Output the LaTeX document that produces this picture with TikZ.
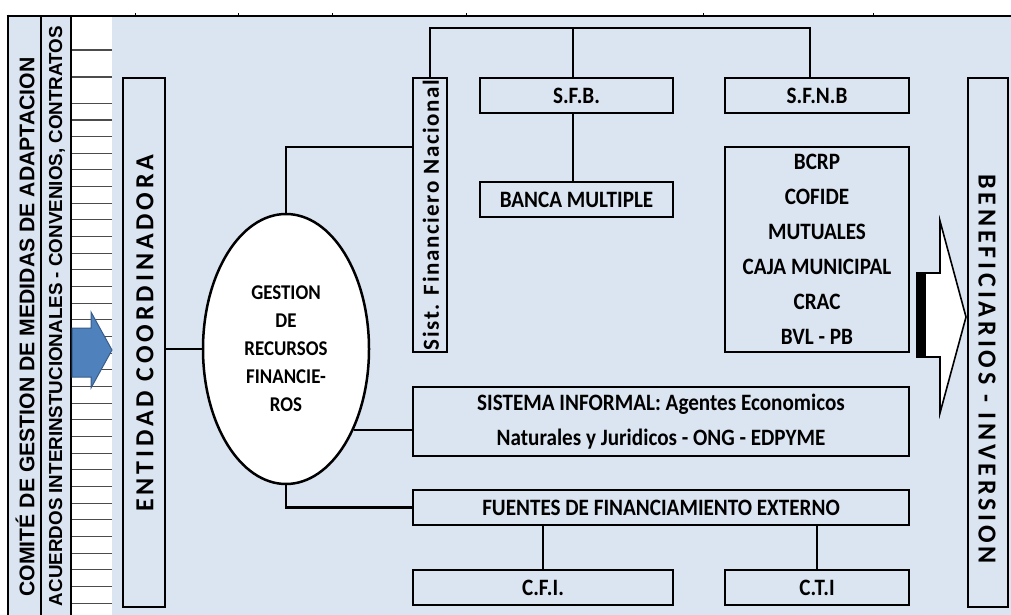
\documentclass[tikz,border=0pt]{standalone}
\usepackage{fontspec}
\setmainfont{Carlito}
\newfontfamily\boxf{Carlito}[FakeStretch=0.9]
\newfontfamily\arialf{Liberation Sans}
\newfontfamily\spacedf{Carlito}[LetterSpace=15]
\newfontfamily\sistf{Carlito}[LetterSpace=7]
\usetikzlibrary{shapes.geometric}
\definecolor{bgblue}{HTML}{DBE5F1}
\definecolor{arrowblue}{HTML}{4F81BD}
\definecolor{arrowedge}{HTML}{385D8A}
\begin{document}
\begin{tikzpicture}[x=1pt,y=-1pt,
  box/.style={draw=black, line width=2.7pt, fill=bgblue, inner sep=0pt, align=center,
              font=\boxf\bfseries\fontsize{23.5}{35}\selectfont},
  conn/.style={draw=black, line width=2.5pt},
  stripe/.style={draw=black!70, line width=1.1pt},
  border/.style={draw=black, line width=2.8pt},
  tick/.style={draw=black, line width=0.6pt}]
\useasboundingbox (0,0) rectangle (1011,615);
% backgrounds
\fill[bgblue] (8,16) rectangle (71,615);
\fill[white] (71,16) rectangle (112,615);
\fill[bgblue] (112,16) rectangle (1011,615);
% stripes
\foreach \yy in {50,77} \draw[stripe] (72,\yy) -- (112,\yy);
\foreach \k in {0,...,30} \draw[stripe] (72,{103.3+\k*16.66}) -- (112,{103.3+\k*16.66});
% frame lines
\draw[border] (6.6,16) -- (1011,16);
\draw[border] (8,14.6) -- (8,615);
\draw[border] (41,16) -- (41,615);
\draw[border] (71,16) -- (71,615);
\foreach \xx in {135,238,332,466,703,873} \draw[tick] (\xx,13) -- (\xx,16);
% left column texts
\node[rotate=90, inner sep=0pt, font=\arialf\bfseries\fontsize{21.2}{24}\selectfont] (comite) at (25,327)
  {COMITÉ DE GESTION DE MEDIDAS DE ADAPTACION};
\node[rotate=90, inner sep=0pt, font=\arialf\bfseries\fontsize{18.8}{22}\selectfont] (acuerdos) at (57,316)
  {ACUERDOS INTERINSTUCIONALES - CONVENIOS, CONTRATOS};
% left blue arrow
\draw[fill=arrowblue, draw=arrowedge, line width=1pt, line join=miter]
  (72,328) -- (91,328) -- (91,312) -- (112,350) -- (91,388) -- (91,377) -- (72,377) -- cycle;
% boxes
\node[box, minimum width=42pt, minimum height=529pt] (entidad) at (144,342.5) {};
\node[rotate=90, inner sep=0pt, font=\spacedf\bfseries\fontsize{26}{30}\selectfont] (entidadtxt) at (145,333)
  {ENTIDAD COORDINADORA};
\node[box, minimum width=34pt, minimum height=274pt] (sist) at (430,215) {};
\node[rotate=90, inner sep=0pt, font=\sistf\bfseries\fontsize{23}{26}\selectfont] (sisttxt) at (431,215)
  {Sist. Financiero Nacional};
\node[box, minimum width=193pt, minimum height=35pt] (sfb) at (576.5,95.5) {S.F.B.};
\node[box, minimum width=184pt, minimum height=35pt] (sfnb) at (817,95.5) {S.F.N.B};
\node[box, minimum width=193pt, minimum height=35pt] (banca) at (576.5,199.5) {BANCA MULTIPLE};
\node[box, minimum width=184pt, minimum height=205pt] (bcrp) at (817,249.5)
  {BCRP\\COFIDE\\MUTUALES\\CAJA MUNICIPAL\\CRAC\\BVL - PB};
\node[box, minimum width=496pt, minimum height=69pt] (informal) at (661,421.5)
  {SISTEMA INFORMAL: Agentes Economicos\\Naturales y Juridicos - ONG - EDPYME};
\node[box, minimum width=496pt, minimum height=35pt] (fuentes) at (661,507.5)
  {FUENTES DE FINANCIAMIENTO EXTERNO};
\node[box, minimum width=260pt, minimum height=35pt] (cfi) at (543,587.5) {C.F.I.};
\node[box, minimum width=184pt, minimum height=35pt] (cti) at (817,587.5) {C.T.I};
\node[box, minimum width=40pt, minimum height=529pt] (benef) at (988,342.5) {};
\node[rotate=-90, inner sep=0pt, font=\spacedf\bfseries\fontsize{26}{30}\selectfont] (beneftxt) at (987,369)
  {BENEFICIARIOS - INVERSION};
% ellipse
\node[ellipse, draw=black, line width=2.5pt, fill=white, minimum width=166pt, minimum height=270pt,
      inner sep=0pt, align=center, font=\boxf\bfseries\fontsize{21}{28}\selectfont] (gest) at (286,349)
  {GESTION\\DE\\RECURSOS\\FINANCIE-\\ROS};
% right block arrow
\draw[fill=white, draw=black, line width=1.6pt, line join=miter]
  (917,273) -- (940,273) -- (940,221) -- (966,317) -- (940,413) -- (940,357) -- (917,357) -- cycle;
\fill[black] (916,272) rectangle (926,358);
% connectors
\coordinate (t1) at (430,28);
\coordinate (t2) at (573,28);
\coordinate (t3) at (810,28);
\coordinate (k1) at (0,147);
\draw[conn] (sist.north) -- (t1) -- (t3) -- (t3 |- sfnb.north);
\draw[conn] (t2) -- (t2 |- sfb.north);
\draw[conn] (t2 |- sfb.south) -- (t2 |- banca.north);
\draw[conn] (entidad.east |- gest.west) -- (gest.west);
\draw[conn] (gest.north) |- (k1 -| sist.west);
\draw[conn] (gest.-50) -- (gest.-50 -| informal.west);
\draw[conn] (gest.south) |- (fuentes.west);
\draw[conn] (cfi.north) -- (cfi.north |- fuentes.south);
\draw[conn] (cti.north) -- (cti.north |- fuentes.south);
\end{tikzpicture}
\end{document}
